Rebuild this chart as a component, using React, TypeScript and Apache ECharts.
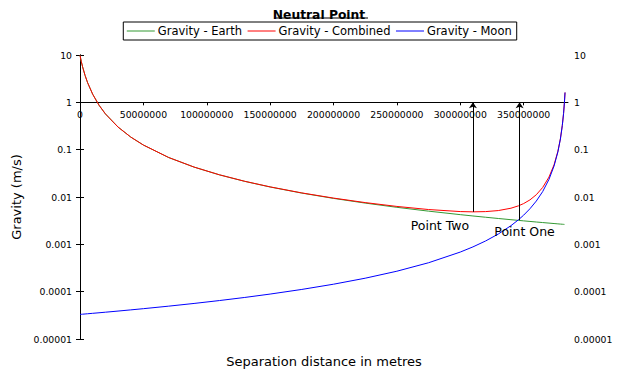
import React, { useEffect, useRef } from "react";
import * as echarts from "echarts";

// Distance from Earth's surface (metres)
const distances = [
  0, 1000000, 2000000, 4000000, 6000000, 10000000, 15000000, 20000000, 30000000,
  40000000, 50000000, 70000000, 90000000, 110000000, 130000000, 150000000,
  175000000, 200000000, 225000000, 250000000, 275000000, 300000000, 310000000,
  320000000, 330000000, 340000000, 346000000, 350000000, 355000000, 360000000,
  365000000, 370000000, 374000000, 377000000, 379000000, 380500000, 381500000,
  382200000, 382660000,
];

const gravityEarth = [
  9.8, 7.321, 5.677, 3.698, 2.599, 1.484, 0.8709, 0.572, 0.3007, 0.185, 0.1252,
  0.0682, 0.04283, 0.02937, 0.02139, 0.01627, 0.01209, 0.009341, 0.00743,
  0.006052, 0.005024, 0.004238, 0.003974, 0.003735, 0.003516, 0.003316,
  0.003204, 0.003132, 0.003046, 0.002963, 0.002884, 0.002808, 0.002749,
  0.002706, 0.002678, 0.002658, 0.002644, 0.002635, 0.002628,
];

const gravityCombined = [
  9.8, 7.321, 5.677, 3.698, 2.599, 1.484, 0.8709, 0.572, 0.3007, 0.185, 0.1252,
  0.06825, 0.04289, 0.02943, 0.02147, 0.01636, 0.0122, 0.009485, 0.007622,
  0.006323, 0.005432, 0.004924, 0.004857, 0.004914, 0.005168, 0.005795,
  0.006519, 0.007262, 0.008701, 0.011173, 0.015871, 0.02638, 0.04794, 0.09197,
  0.1703, 0.324, 0.5838, 1.0125, 1.617,
];

const gravityMoon = [
  0.00003308, 0.00003325, 0.00003343, 0.00003378, 0.00003414, 0.00003487,
  0.00003582, 0.00003681, 0.00003892, 0.00004121, 0.00004371, 0.00004945,
  0.00005639, 0.00006492, 0.00007552, 0.00008896, 0.00011147, 0.00014375,
  0.00019237, 0.0002706, 0.0004084, 0.0006862, 0.000883, 0.0011785, 0.0016516,
  0.0024794, 0.0033147, 0.0041303, 0.005655, 0.00821, 0.012987, 0.023572,
  0.04519, 0.08926, 0.16762, 0.32136, 0.5812, 1.0099, 1.6144,
];

const yTickLabels = ["0.00001", "0.0001", "0.001", "0.01", "0.1", "1", "10"];

// Annotations
const pointTwo = { name: "Point Two", x: 310000000, y: 0.004857 };
const pointOne = { name: "Point One", x: 346800000, y: 0.00326 };

const FONT = "DejaVu Sans, Verdana, sans-serif";

export default function App() {
  const ref = useRef<HTMLDivElement>(null);

  useEffect(() => {
    document.body.style.margin = "0";
    if (!ref.current) return;
    const chart = echarts.init(ref.current, undefined, { renderer: "svg" });

    const gridTop = 55;
    const gridBottom = 39;
    const gridHeight = 378 - gridTop - gridBottom;
    const decades = 6;
    const offsetToOne = (gridHeight * 5) / decades; // from 0.00001 up to 1

    const toPairs = (ys: number[]) => distances.map((d, i) => [d, ys[i]]);
    const yFmt = (v: number) => {
      const idx = Math.round(Math.log10(v)) + 5;
      return yTickLabels[idx] ?? String(v);
    };

    const yAxisCommon = {
      type: "log" as const,
      logBase: 10,
      min: 0.00001,
      max: 10,
      axisLine: { show: true, lineStyle: { color: "#000", width: 1 } },
      axisTick: { show: true, length: 4, lineStyle: { color: "#000" } },
      splitLine: { show: false },
      axisLabel: {
        color: "#000",
        fontFamily: FONT,
        fontSize: 9.3,
        formatter: yFmt,
      },
    };

    chart.setOption({
      animation: false,
      textStyle: { fontFamily: FONT },
      title: {
        text: "Neutral Point",
        left: "center",
        top: 4,
        textStyle: {
          fontFamily: FONT,
          fontSize: 12.3,
          fontWeight: "bold",
          color: "#000",
        },
      },
      graphic: [
        {
          type: "line",
          shape: { x1: 276, y1: 18, x2: 368, y2: 18 },
          style: { stroke: "#000", lineWidth: 1 },
        },
      ],
      legend: {
        top: 22,
        left: "center",
        data: ["Gravity - Earth", "Gravity - Combined", "Gravity - Moon"],
        borderColor: "#000",
        borderWidth: 1,
        borderRadius: 0,
        padding: [3, 5, 3, 3],
        itemGap: 5,
        itemWidth: 28,
        itemHeight: 12,
        itemStyle: { opacity: 0 },
        lineStyle: { width: 1 },
        textStyle: {
          fontFamily: FONT,
          fontSize: 11.5,
          color: "#000",
          padding: [0, 0, 0, -2],
        },
      },
      grid: { left: 80, right: 70, top: gridTop, bottom: gridBottom },
      xAxis: [
        {
          type: "value",
          min: 0,
          max: 385000000,
          interval: 50000000,
          position: "bottom",
          offset: -offsetToOne,
          axisLine: { show: true, lineStyle: { color: "#000", width: 1 } },
          axisTick: { show: true, length: 3, lineStyle: { color: "#000" } },
          splitLine: { show: false },
          axisLabel: {
            color: "#000",
            fontFamily: FONT,
            fontSize: 9.3,
            margin: 8,
            showMaxLabel: false,
            formatter: (v: number) => String(v),
          },
        },
        {
          type: "value",
          min: 0,
          max: 385000000,
          position: "bottom",
          axisLine: { show: false },
          axisTick: { show: false },
          axisLabel: { show: false },
          splitLine: { show: false },
          name: "Separation distance in metres",
          nameLocation: "middle",
          nameGap: 16,
          nameTextStyle: { fontFamily: FONT, fontSize: 13, color: "#000" },
        },
      ],
      yAxis: [
        {
          ...yAxisCommon,
          position: "left",
          axisLabel: { ...yAxisCommon.axisLabel, margin: 8 },
          name: "Gravity (m/s)",
          nameLocation: "middle",
          nameGap: 47,
          nameRotate: 90,
          nameTextStyle: { fontFamily: FONT, fontSize: 13, color: "#000" },
        },
        {
          ...yAxisCommon,
          position: "right",
          axisLabel: { ...yAxisCommon.axisLabel, margin: 6 },
        },
      ],
      series: [
        {
          name: "Gravity - Earth",
          type: "line",
          symbol: "none",
          data: toPairs(gravityEarth),
          lineStyle: { color: "#339933", width: 1 },
          itemStyle: { color: "#339933" },
        },
        {
          name: "Gravity - Combined",
          type: "line",
          symbol: "none",
          data: toPairs(gravityCombined),
          lineStyle: { color: "#ff0000", width: 1 },
          itemStyle: { color: "#ff0000" },
          markLine: {
            silent: true,
            symbol: ["none", "arrow"],
            symbolSize: 6,
            label: { show: false },
            lineStyle: { color: "#000", width: 1, type: "solid" },
            data: [
              [{ coord: [pointTwo.x, pointTwo.y] }, { coord: [pointTwo.x, 1] }],
              [{ coord: [pointOne.x, pointOne.y] }, { coord: [pointOne.x, 1] }],
            ],
          },
          markPoint: {
            silent: true,
            symbol: "circle",
            symbolSize: 0,
            data: [
              {
                name: pointTwo.name,
                coord: [pointTwo.x, pointTwo.y],
                label: { offset: [-33, 14] },
              },
              {
                name: pointOne.name,
                coord: [pointOne.x, pointOne.y],
                label: { offset: [5, 11] },
              },
            ],
            label: {
              show: true,
              position: "inside",
              formatter: "{b}",
              fontFamily: FONT,
              fontSize: 12.5,
              color: "#000",
            },
          },
        },
        {
          name: "Gravity - Moon",
          type: "line",
          symbol: "none",
          data: toPairs(gravityMoon),
          lineStyle: { color: "#0000ff", width: 1 },
          itemStyle: { color: "#0000ff" },
        },
      ],
    });

    return () => chart.dispose();
  }, []);

  return <div ref={ref} style={{ width: 638, height: 378 }} />;
}
